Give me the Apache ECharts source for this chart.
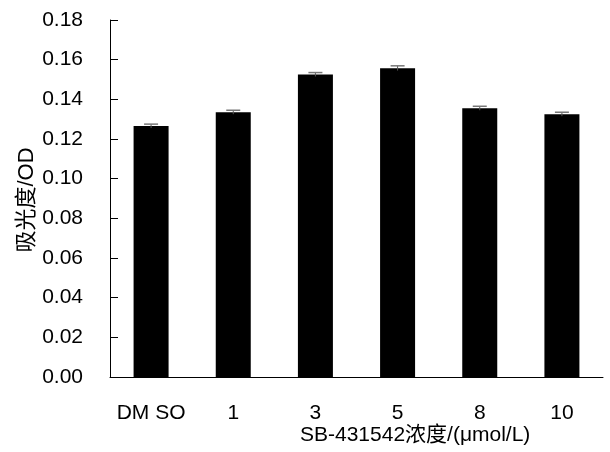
<!DOCTYPE html>
<html>
<head>
<meta charset="utf-8">
<script src="https://cdn.jsdelivr.net/npm/echarts@6/dist/echarts.min.js"></script>
<style>
  html, body { margin: 0; padding: 0; background: #fff; }
  #chart { width: 610px; height: 452px; }
</style>
</head>
<body>
<div id="chart"></div>
<script>
const categories = ["DM SO", "1", "3", "5", "8", "10"];
const values = [0.1265, 0.1335, 0.1525, 0.1557, 0.1355, 0.1325];
const errors = [0.001, 0.001, 0.001, 0.0012, 0.001, 0.001];
const yTicks = { min: 0, max: 0.18, interval: 0.02 };

const font = "'Liberation Sans', Arial, 'Noto Sans CJK SC', sans-serif";

function renderErrorBar(params, api) {
  const idx = api.value(0);
  const v = api.value(1);
  const e = api.value(2);
  const low = api.coord([idx, v - e]);
  const high = api.coord([idx, v + e]);
  const half = 7;
  const style = { stroke: "#555", lineWidth: 1 };
  return {
    type: "group",
    children: [
      { type: "line", shape: { x1: high[0], y1: low[1], x2: high[0], y2: high[1] }, style },
      { type: "line", shape: { x1: high[0] - half, y1: high[1], x2: high[0] + half, y2: high[1] }, style: { stroke: "#777", lineWidth: 1.5 } },
    ],
  };
}

const chart = echarts.init(document.getElementById("chart"));
chart.setOption({
  animation: false,
  textStyle: { fontFamily: font, color: "#000" },
  grid: { left: 110, right: 7, top: 20, bottom: 75 },
  xAxis: {
    type: "category",
    data: categories,
    axisLine: { lineStyle: { color: "#000", width: 1 } },
    axisTick: { inside: true, length: 5, lineStyle: { color: "#000" } },
    axisLabel: { color: "#000", fontSize: 21, margin: 26, interval: 0, fontFamily: font },
  },
  yAxis: {
    type: "value",
    min: yTicks.min,
    max: yTicks.max,
    interval: yTicks.interval,
    axisLine: { show: true, lineStyle: { color: "#000", width: 1 } },
    axisTick: { show: true, inside: true, length: 8, lineStyle: { color: "#000" } },
    axisLabel: { color: "#000", fontSize: 21, margin: 27, fontFamily: font, formatter: v => v.toFixed(2) },
    splitLine: { show: false },
  },
  graphic: [
    {
      type: "text",
      x: 27,
      y: 200,
      rotation: Math.PI / 2,
      style: { text: "吸光度/OD", font: "22px " + font, fill: "#000", align: "center", verticalAlign: "middle" },
    },
    {
      type: "text",
      left: 300,
      top: 425,
      style: { text: "SB-431542浓度/(μmol/L)", font: "21px " + font, fill: "#000" },
    },
  ],
  series: [
    {
      type: "bar",
      data: values,
      barWidth: 35,
      itemStyle: { color: "#000" },
    },
    {
      type: "custom",
      renderItem: renderErrorBar,
      data: values.map((v, i) => [i, v, errors[i]]),
      z: 3,
    },
  ],
});
</script>
</body>
</html>
